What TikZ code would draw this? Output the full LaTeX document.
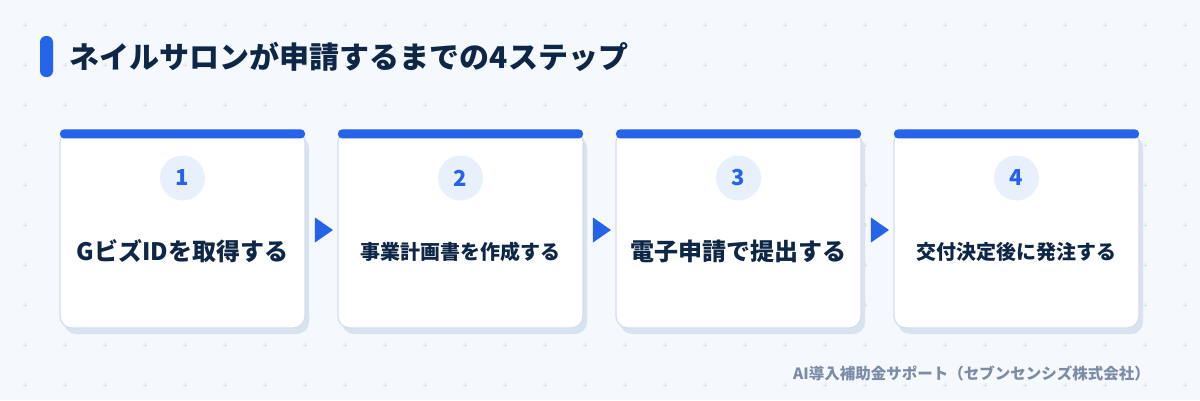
\documentclass[tikz,border=0pt]{standalone}
\usepackage{fontspec}
\setmainfont{Noto Sans CJK JP}
\usepackage{tikz}
\usetikzlibrary{positioning}
\usetikzlibrary{shapes.geometric}
\usetikzlibrary{shadows}

\definecolor{bgcol}{HTML}{F5F8FD}
\definecolor{dotcol}{HTML}{DCE3EE}
\definecolor{bluecol}{HTML}{2563EB}
\definecolor{navycol}{HTML}{0F2747}
\definecolor{bordercol}{HTML}{D3DEEC}
\definecolor{shadowcol}{HTML}{D9E3F0}
\definecolor{circcol}{HTML}{E8F0FC}
\definecolor{footcol}{HTML}{7D8CA6}

\tikzstyle{flow_style}=[
	x=1pt, y=-1pt, node distance=278pt,
	card/.style={rectangle,rounded corners=12pt,fill=white,draw=bordercol,line width=1.2pt,minimum width=245pt,minimum height=198pt,drop shadow={shadow xshift=4pt,shadow yshift=-6pt,fill=shadowcol,opacity=1}},
	top_bar/.style={rectangle,rounded corners=4pt,fill=bluecol,draw=none,minimum width=245pt,minimum height=9pt,inner sep=0pt},
	num_circle/.style={circle,fill=circcol,draw=none,minimum size=45pt,inner sep=0pt,text=bluecol,font=\fontsize{22}{26}\selectfont\bfseries},
	card_text/.style={rectangle,draw=none,inner sep=0pt,text=navycol,font=\fontsize{24}{28}\selectfont\bfseries},
	card_text_small/.style={card_text,font=\fontsize{20}{24}\selectfont\bfseries},
	arrow_tip/.style={isosceles triangle,isosceles triangle stretches,fill=bluecol,draw=none,inner sep=0pt,minimum width=25pt,minimum height=18pt},
	title_bar/.style={rectangle,rounded corners=6pt,fill=bluecol,draw=none,minimum width=13pt,minimum height=41pt,inner sep=0pt},
	title_text/.style={inner sep=0pt,text=navycol,font=\fontsize{30}{36}\selectfont\bfseries},
	foot_text/.style={inner sep=0pt,text=footcol,font=\fontsize{15.5}{18}\selectfont\bfseries},
	plus_mark/.style={draw=dotcol,line width=1pt}
]

\begin{document}
\begin{tikzpicture}[flow_style]
		
		\useasboundingbox (0,0) rectangle (1200,400);
		\fill[bgcol] (0,0) rectangle (1200,400);
		
		% background grid of small plus marks
		\foreach \i in {0,...,29}
		\foreach \j in {0,...,9}
		{
			\pgfmathsetmacro{\px}{25+40*\i}
			\pgfmathsetmacro{\py}{25+40*\j}
			\draw[plus_mark] (\px-2,\py) -- (\px+2,\py) (\px,\py-2) -- (\px,\py+2);
		}
		
		% title
		\node[title_bar]  (tbar) at (46.5,56.5) {};
		\node[title_text] (title)[right=16.5pt of tbar] {ネイルサロンが申請するまでの4ステップ};
		
		% cards
		\node[card]    (c1) at (182.5,229) {};
		\node[card]    (c2)[right of=c1] {};
		\node[card]    (c3)[right of=c2] {};
		\node[card]    (c4)[right of=c3] {};
		
		\node[top_bar] (b1) at ([yshift=-4.5pt]c1.north) {};
		\node[top_bar] (b2) at ([yshift=-4.5pt]c2.north) {};
		\node[top_bar] (b3) at ([yshift=-4.5pt]c3.north) {};
		\node[top_bar] (b4) at ([yshift=-4.5pt]c4.north) {};
		
		\node[num_circle] (n1) at ([yshift=51pt]c1.center) {1};
		\node[num_circle] (n2) at ([yshift=51pt]c2.center) {2};
		\node[num_circle] (n3) at ([yshift=51pt]c3.center) {3};
		\node[num_circle] (n4) at ([yshift=51pt]c4.center) {4};
		
		\node[card_text]       (t1) at ([yshift=-22.5pt]c1.center) {GビズIDを取得する};
		\node[card_text_small] (t2) at ([yshift=-22.5pt]c2.center) {事業計画書を作成する};
		\node[card_text]       (t3) at ([yshift=-22.5pt]c3.center) {電子申請で提出する};
		\node[card_text_small] (t4) at ([yshift=-22.5pt]c4.center) {交付決定後に発注する};
		
		% arrows between cards
		\node[arrow_tip] (a1)[right of=c1, node distance=139pt, yshift=-1pt] {};
		\node[arrow_tip] (a2)[right of=c2, node distance=139pt, yshift=-1pt] {};
		\node[arrow_tip] (a3)[right of=c3, node distance=139pt, yshift=-1pt] {};
		
		% footer
		\node[foot_text, anchor=east] (foot) at (1150,373) {AI導入補助金サポート（セブンセンシズ株式会社）};
		
\end{tikzpicture}
\end{document}
